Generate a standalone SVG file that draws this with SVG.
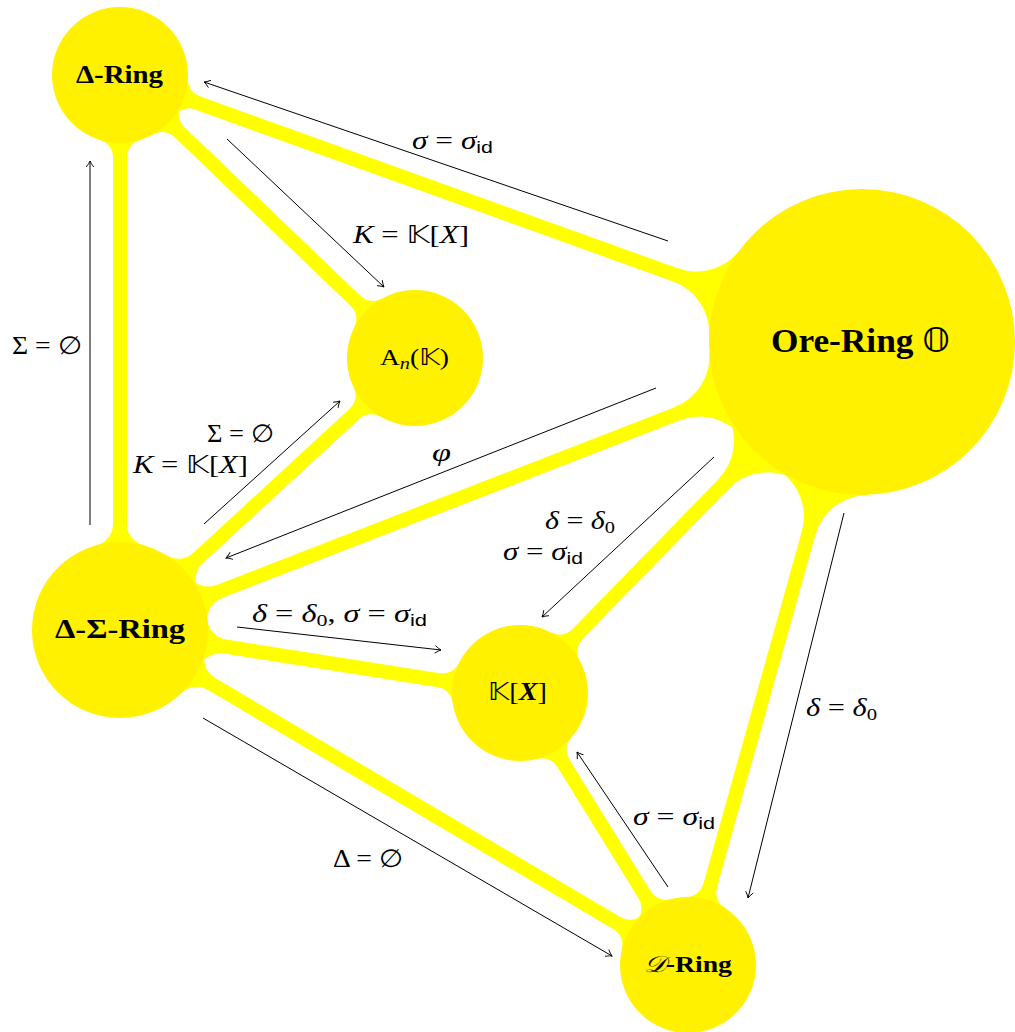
<svg xmlns="http://www.w3.org/2000/svg" width="1015" height="1032" viewBox="0 0 1015 1032">
<style>
.band{stroke:#FFFF00;stroke-width:14;fill:none}
.flare{fill:#FFFF00}
.node{fill:#FFF100}
.arr{stroke:#000;stroke-width:1;fill:none;marker-end:url(#ah)}
.nl{font-family:"Liberation Serif",serif;font-weight:bold;fill:#000}
.ml{font-family:"Liberation Serif",serif;font-size:25px;fill:#000}
.it{font-style:italic}
.sf{font-family:"Liberation Sans",sans-serif;font-size:17px;font-style:normal}
.sub{font-size:17px}
.ds{font-family:"DejaVu Sans",sans-serif;font-style:normal;font-weight:normal}
</style>
<defs>
<path id="f68" d="M0,0 L65.07,-19.77 A18,18 0 0 0 82.29,-7 L82.29,7 A18,18 0 0 0 65.07,19.77 Z"/>
<path id="f88" d="M0,0 L84.89,-23.2 A22,22 0 0 0 106.11,-7 L106.11,7 A22,22 0 0 0 84.89,23.2 Z"/>
<path id="f153" d="M0,0 L146,-45.6 A55,55 0 0 0 198.5,-7 L198.5,7 A55,55 0 0 0 146,45.6 Z"/>
<marker id="ah" viewBox="-8 -6 10 12" markerWidth="10" markerHeight="12" refX="0" refY="0" orient="auto" markerUnits="userSpaceOnUse">
<path d="M-6,-3.8 Q-2.5,-1 0,0 Q-2.5,1 -6,3.8" fill="none" stroke="#000" stroke-width="0.9"/>
</marker>
</defs>

<g id="bands">
<g class="flare">
<use href="#f68" transform="translate(120,75) rotate(19.8)"/>
<use href="#f68" transform="translate(120,75) rotate(43.8)"/>
<use href="#f68" transform="translate(120,75) rotate(90)"/>
<use href="#f68" transform="translate(415,358) rotate(223.8)"/>
<use href="#f68" transform="translate(415,358) rotate(137.3)"/>
<use href="#f153" transform="translate(862,342) rotate(199.8)"/>
<use href="#f153" transform="translate(862,342) rotate(158.8)"/>
<use href="#f153" transform="translate(862,342) rotate(134.3)"/>
<use href="#f153" transform="translate(862,342) rotate(105.6)"/>
<use href="#f88" transform="translate(120,630) rotate(270)"/>
<use href="#f88" transform="translate(120,630) rotate(-42.7)"/>
<use href="#f88" transform="translate(120,630) rotate(-21.2)"/>
<use href="#f88" transform="translate(120,630) rotate(8.95)"/>
<use href="#f88" transform="translate(120,630) rotate(30.5)"/>
<use href="#f68" transform="translate(520,693) rotate(188.95)"/>
<use href="#f68" transform="translate(520,693) rotate(-45.7)"/>
<use href="#f68" transform="translate(520,693) rotate(58.3)"/>
<use href="#f68" transform="translate(688,965) rotate(210.5)"/>
<use href="#f68" transform="translate(688,965) rotate(238.3)"/>
<use href="#f68" transform="translate(688,965) rotate(285.6)"/>
</g>
<line class="band" x1="120" y1="75" x2="862" y2="342"/>
<line class="band" x1="120" y1="75" x2="415" y2="358"/>
<line class="band" x1="120" y1="75" x2="120" y2="630"/>
<line class="band" x1="120" y1="630" x2="415" y2="358"/>
<line class="band" x1="120" y1="630" x2="862" y2="342"/>
<line class="band" x1="120" y1="630" x2="520" y2="693"/>
<line class="band" x1="120" y1="630" x2="688" y2="965"/>
<line class="band" x1="520" y1="693" x2="862" y2="342"/>
<line class="band" x1="520" y1="693" x2="688" y2="965"/>
<line class="band" x1="862" y1="342" x2="688" y2="965"/>
</g>

<g id="node-delta-ring">
<circle class="node" cx="120" cy="75" r="68"/>
<text class="nl" x="76" y="83" font-size="26" textLength="87" lengthAdjust="spacingAndGlyphs">Δ-Ring</text>
</g>
<g id="node-weyl">
<circle class="node" cx="415" cy="358" r="68"/>
<text x="380" y="365" font-family="Liberation Serif, serif" font-size="23" textLength="69" lengthAdjust="spacingAndGlyphs">A<tspan font-style="italic" font-size="17" dy="4">n</tspan><tspan dy="-4">(</tspan><tspan class="ds">𝕂</tspan>)</text>
</g>
<g id="node-ore">
<circle class="node" cx="862" cy="342" r="153"/>
<text class="nl" x="771" y="352" font-size="33" textLength="179" lengthAdjust="spacingAndGlyphs">Ore-Ring <tspan class="ds">𝕆</tspan></text>
</g>
<g id="node-delta-sigma-ring">
<circle class="node" cx="120" cy="630" r="88"/>
<text class="nl" x="55" y="638" font-size="27" textLength="130" lengthAdjust="spacingAndGlyphs">Δ-Σ-Ring</text>
</g>
<g id="node-kx">
<circle class="node" cx="520" cy="693" r="68"/>
<text x="488" y="700" font-family="Liberation Serif, serif" font-size="25" textLength="59" lengthAdjust="spacingAndGlyphs"><tspan class="ds">𝕂</tspan>[<tspan font-weight="bold" font-style="italic">X</tspan>]</text>
</g>
<g id="node-d-ring">
<circle class="node" cx="688" cy="965" r="68"/>
<text class="nl" x="644" y="972" font-size="23" textLength="88" lengthAdjust="spacingAndGlyphs"><tspan font-weight="normal" font-style="italic">𝒟</tspan>-Ring</text>
</g>

<g id="connectors">
<line class="arr" x1="668" y1="241" x2="204" y2="82"/>
<line class="arr" x1="227" y1="139" x2="384" y2="287"/>
<line class="arr" x1="90" y1="525" x2="90" y2="161"/>
<line class="arr" x1="204" y1="524" x2="340" y2="401"/>
<line class="arr" x1="656" y1="388" x2="226" y2="558"/>
<line class="arr" x1="237" y1="627" x2="441" y2="650"/>
<line class="arr" x1="203" y1="718" x2="612" y2="956"/>
<line class="arr" x1="714" y1="457" x2="542" y2="617"/>
<line class="arr" x1="668" y1="887" x2="577" y2="752"/>
<line class="arr" x1="844" y1="513" x2="748" y2="898"/>
</g>

<g id="labels">
<text class="ml" x="412" y="149" textLength="81" lengthAdjust="spacingAndGlyphs"><tspan class="it">σ</tspan> = <tspan class="it">σ</tspan><tspan class="sf" dy="4">id</tspan></text>
<text class="ml" x="353" y="243" textLength="116" lengthAdjust="spacingAndGlyphs"><tspan class="it">K</tspan> = <tspan class="ds">𝕂</tspan>[<tspan class="it">X</tspan>]</text>
<text class="ml" x="12" y="354" textLength="70" lengthAdjust="spacingAndGlyphs">Σ = ∅</text>
<text class="ml" x="207" y="442" textLength="67" lengthAdjust="spacingAndGlyphs">Σ = ∅</text>
<text class="ml" x="133" y="473" textLength="115" lengthAdjust="spacingAndGlyphs"><tspan class="it">K</tspan> = <tspan class="ds">𝕂</tspan>[<tspan class="it">X</tspan>]</text>
<text class="ml it" x="432" y="461" font-size="30" textLength="19" lengthAdjust="spacingAndGlyphs">φ</text>
<text class="ml" x="545" y="529" textLength="70" lengthAdjust="spacingAndGlyphs"><tspan class="it">δ</tspan> = <tspan class="it">δ</tspan><tspan class="sub" dy="4">0</tspan></text>
<text class="ml" x="503" y="560" textLength="80" lengthAdjust="spacingAndGlyphs"><tspan class="it">σ</tspan> = <tspan class="it">σ</tspan><tspan class="sf" dy="4">id</tspan></text>
<text class="ml" x="252" y="622" textLength="175" lengthAdjust="spacingAndGlyphs"><tspan class="it">δ</tspan> = <tspan class="it">δ</tspan><tspan class="sub" dy="4">0</tspan><tspan dy="-4">,  </tspan><tspan class="it">σ</tspan> = <tspan class="it">σ</tspan><tspan class="sf" dy="4">id</tspan></text>
<text class="ml" x="806" y="716" textLength="71" lengthAdjust="spacingAndGlyphs"><tspan class="it">δ</tspan> = <tspan class="it">δ</tspan><tspan class="sub" dy="4">0</tspan></text>
<text class="ml" x="633" y="825" textLength="82" lengthAdjust="spacingAndGlyphs"><tspan class="it">σ</tspan> = <tspan class="it">σ</tspan><tspan class="sf" dy="4">id</tspan></text>
<text class="ml" x="333" y="867" textLength="70" lengthAdjust="spacingAndGlyphs">Δ = ∅</text>
</g>
</svg>
